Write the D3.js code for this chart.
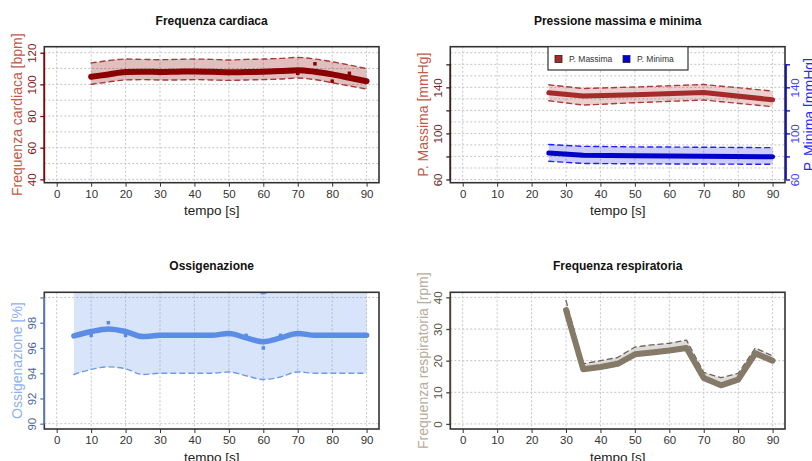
<!DOCTYPE html>
<html><head><meta charset="utf-8">
<script src="https://cdn.jsdelivr.net/npm/d3@7"></script>
<style>body{margin:0;background:#fff}svg{display:block;font-family:"Liberation Sans",Arial,Helvetica,sans-serif}</style>
</head><body>
<svg id="c" width="812" height="461"></svg>
<script>
// ---------------- DATA ----------------
const xTicks = [0,10,20,30,40,50,60,70,80,90];

// Frequenza cardiaca
const hrTime  = [10,15,20,25,30,35,40,45,50,55,60,65,70,75,80,85,90];
const hrMean  = [104.8,106.3,107.8,108,107.8,108,108.2,108,107.6,107.8,108,108.4,109,108,106.3,104.2,102];
const hrUpper = [113.5,115,116,115.8,115.6,115.8,116,115.8,115.4,115.8,116,116.4,117,116,114.3,112.2,110];
const hrLower = [100,101.5,102.8,103,102.8,102.8,103,102.8,102.5,102.8,103,103.4,104,103,101,99,97];
const hrObs   = [105,106,108,108,107,108,108,108,107,108,108,108,107,113,102,107,102];
const hrTicks = [40,60,80,100,120];

// Pressione massima e minima
const bpTime   = [25,35,50,70,90];
const sysMean  = [135.3,132.5,133.6,135.5,129.2];
const sysUpper = [142.2,139,140.3,142.5,136.8];
const sysLower = [128.4,124.6,126.7,129,123.2];
const diaMean  = [83,81,80.5,80.2,79.7];
const diaUpper = [90.4,88.8,88.3,88,87.6];
const diaLower = [75.8,73.9,73.6,73.4,73.2];
const bpTicks  = [60,80,100,120,140,160];
const bpLabels = [60,100,140];
const bpLegend = ["P. Massima","P. Minima"];

// Ossigenazione
const oxTime  = [5,10,15,20,25,30,35,40,45,50,55,60,65,70,75,80,85,90];
const oxMean  = [96.95,97.3,97.5,97.3,96.9,97,97,97,97,97.15,96.8,96.5,96.8,97.15,97,97,97,97];
const oxLower = [93.9,94.3,94.5,94.35,93.9,94,94,94,94,94.1,93.8,93.5,93.7,94.1,94,94,94,94];
const oxUpper = [101.2,101.2,101.2,101.2,101.2,101.2,101.2,101.2,101.2,101.2,100.8,100.3,100.8,101.2,101.2,101.2,101.2,101.2];
const oxObsTime = [10,15,20,55,60,65];
const oxObs     = [97,98,97,97,96,97];
const oxTicks = [90,92,94,96,98,100];

// Frequenza respiratoria
const rrTime  = [30,35,40,45,50,55,60,65,70,75,80,85,90];
const rrMean  = [36,17.3,18,19,22,22.6,23.2,24,14.5,12.2,14,22.3,20];
const rrUpper = [39,19,20,21,24.3,25,25.5,26.5,16.3,14.6,16,24,21.5];
const rrLower = [35.7,17,17.7,18.7,21.7,22.3,22.9,23.7,14.2,11.9,13.7,22,19.7];
const rrTicks = [0,10,20,30,40];

// ---------------- DRAW ----------------
const svg = d3.select("#c");
let clipId = 0;

function makePanel(o){
  const g = svg.append("g");
  const x = d3.scaleLinear().domain([-3.6,93.6]).range([o.left,o.right]);
  const y = d3.scaleLinear().domain(o.yDomain).range([o.bottom,o.top]);
  const id = "clip"+(clipId++);
  g.append("clipPath").attr("id",id).append("rect")
    .attr("x",o.left).attr("y",o.top).attr("width",o.right-o.left).attr("height",o.bottom-o.top);
  // grid
  const grid = g.append("g").attr("stroke","#c4c4c4").attr("stroke-width",1).attr("stroke-dasharray","2,2");
  xTicks.forEach(t=>grid.append("line").attr("x1",x(t)).attr("x2",x(t)).attr("y1",o.top).attr("y2",o.bottom));
  o.gridY.forEach(t=>grid.append("line").attr("x1",o.left).attr("x2",o.right).attr("y1",y(t)).attr("y2",y(t)));
  const plot = g.append("g").attr("clip-path","url(#"+id+")");
  o.draw(plot,x,y);
  // box
  g.append("rect").attr("x",o.left).attr("y",o.top).attr("width",o.right-o.left).attr("height",o.bottom-o.top)
    .attr("fill","none").attr("stroke","#333").attr("stroke-width",1.6);
  // x axis
  const xa = g.append("g").attr("transform","translate(0,"+o.bottom+")")
    .call(d3.axisBottom(x).tickValues(xTicks).tickSize(4).tickPadding(3).tickFormat(d3.format("d")));
  xa.select(".domain").remove();
  xa.selectAll("line").attr("stroke","#333");
  xa.selectAll("text").attr("font-size",11.5).attr("fill","#333").attr("font-family",null).attr("dy",null).attr("y",11).attr("dominant-baseline","central");
  g.append("text").attr("x",(o.left+o.right)/2).attr("y",o.bottom+28).attr("text-anchor","middle")
    .attr("dominant-baseline","central").attr("font-size",13.5).attr("fill","#222").text("tempo [s]");
  // title
  g.append("text").attr("x",(o.left+o.right)/2).attr("y",o.top-26).attr("text-anchor","middle")
    .attr("dominant-baseline","central").attr("font-size",12).attr("font-weight","bold").attr("fill","#111").text(o.title);
  // y axes
  o.yAxes.forEach(a=>{
    const right = a.side==="right";
    const ax = right ? d3.axisRight(y) : d3.axisLeft(y);
    const pos = right ? o.right+1 : o.left;
    const ag = g.append("g").attr("transform","translate("+pos+",0)")
      .call(ax.tickValues(a.ticks).tickSize(4).tickFormat(d=> a.labels.includes(d)? d3.format("d")(d):""));
    ag.select(".domain").remove();
    ag.selectAll("line").attr("stroke",a.color).attr("stroke-width",1.3);
    ag.selectAll("text").attr("font-size",11.5).attr("fill",a.labelColor).attr("font-family",null)
      .attr("transform","rotate(-90)").attr("x",0).attr("y",right?9:-12.6).attr("dy","0.35em").attr("text-anchor","middle");
    const ext = d3.extent(a.ticks);
    g.append("line").attr("x1",pos).attr("x2",pos).attr("y1",y(ext[0])).attr("y2",y(ext[1]))
      .attr("stroke",a.color).attr("stroke-width",1.6);
    const cx = right ? 809 : o.left-27;
    const cy = (o.top+o.bottom)/2;
    g.append("text").attr("transform","translate("+cx+","+cy+") rotate(-90)").attr("text-anchor","middle")
      .attr("dominant-baseline","central").attr("font-size",14).attr("fill",a.titleColor).text(a.title);
  });
  return {g,x,y};
}

function band(plot,x,y,t,lo,hi,fill,curve){
  const area = d3.area().x((d,i)=>x(t[i])).y0((d,i)=>y(lo[i])).y1((d,i)=>y(hi[i])).curve(curve);
  plot.append("path").datum(t).attr("d",area).attr("fill",fill);
}
function line(plot,x,y,t,v,stroke,w,dash,curve){
  const ln = d3.line().x((d,i)=>x(t[i])).y((d,i)=>y(v[i])).curve(curve);
  plot.append("path").datum(t).attr("d",ln).attr("fill","none").attr("stroke",stroke).attr("stroke-width",w)
    .attr("stroke-dasharray",dash||null).attr("stroke-linejoin","round").attr("stroke-linecap","round");
}
function squares(plot,x,y,t,v,fill,s){
  plot.selectAll(null).data(t).enter().append("rect")
    .attr("x",(d,i)=>x(t[i])-s/2).attr("y",(d,i)=>y(v[i])-s/2).attr("width",s).attr("height",s).attr("fill",fill);
}

// Panel 1
makePanel({
  left:44.3,right:379,top:46.7,bottom:182.7,yDomain:[37.9,123.8],
  title:"Frequenza cardiaca",
  gridY:[40,50,60,70,80,90,100,110,120],
  yAxes:[{side:"left",ticks:hrTicks,labels:hrTicks,color:"#8b0000",labelColor:"#7a1c1c",titleColor:"#c25a4a",title:"Frequenza cardiaca [bpm]"}],
  draw:(p,x,y)=>{
    const c=d3.curveMonotoneX;
    band(p,x,y,hrTime,hrLower,hrUpper,"rgba(139,0,0,0.25)",c);
    line(p,x,y,hrTime,hrUpper,"#a83a3a",1.4,"5,4",c);
    line(p,x,y,hrTime,hrLower,"#a83a3a",1.4,"5,4",c);
    squares(p,x,y,hrTime,hrObs,"#8b0000",3.5);
    line(p,x,y,hrTime,hrMean,"#8b0000",6,null,c);
  }
});

// Panel 2
const p2 = makePanel({
  left:450.3,right:785,top:46.7,bottom:182.7,yDomain:[57.2,175.3],
  title:"Pressione massima e minima",
  gridY:[60,70,80,90,100,110,120,130,140,150,160,170],
  yAxes:[
    {side:"left",ticks:bpTicks,labels:bpLabels,color:"#3a2222",labelColor:"#6b2a2a",titleColor:"#c25a4a",title:"P. Massima [mmHg]"},
    {side:"right",ticks:bpTicks,labels:bpLabels,color:"#0000cd",labelColor:"#3a3aff",titleColor:"#2a2aff",title:"P. Minima [mmHg]"}
  ],
  draw:(p,x,y)=>{
    const c=d3.curveLinear;
    band(p,x,y,bpTime,sysLower,sysUpper,"rgba(165,42,42,0.22)",c);
    line(p,x,y,bpTime,sysUpper,"#b03a3a",1.4,"5,4",c);
    line(p,x,y,bpTime,sysLower,"#b03a3a",1.4,"5,4",c);
    line(p,x,y,bpTime,sysMean,"#a52a2a",5,null,c);
    band(p,x,y,bpTime,diaLower,diaUpper,"rgba(0,0,255,0.2)",c);
    line(p,x,y,bpTime,diaUpper,"#1f1fff",1.4,"5,4",c);
    line(p,x,y,bpTime,diaLower,"#1f1fff",1.4,"5,4",c);
    line(p,x,y,bpTime,diaMean,"#0000cd",5,null,c);
  }
});
// legend
(function(){
  const lg = p2.g.append("g");
  lg.append("rect").attr("x",548).attr("y",46.7).attr("width",140).attr("height",23.3).attr("fill","#fff").attr("stroke","#333").attr("stroke-width",1.2);
  const cols=["#a52a2a","#0000cd"], xs=[555,623];
  bpLegend.forEach((n,i)=>{
    lg.append("rect").attr("x",xs[i]).attr("y",55.5).attr("width",7).attr("height",7).attr("fill",cols[i]).attr("stroke","#222").attr("stroke-width",0.8);
    lg.append("text").attr("x",xs[i]+14).attr("y",59.3).attr("dominant-baseline","central").attr("font-size",8.5).attr("fill","#333").text(n);
  });
})();

// Panel 3
makePanel({
  left:44.3,right:379,top:292.3,bottom:429,yDomain:[89.58,100.41],
  title:"Ossigenazione",
  gridY:[90,100],
  yAxes:[{side:"left",ticks:oxTicks,labels:[90,92,94,96,98],color:"#5577bb",labelColor:"#4d6699",titleColor:"#8fb0ef",title:"Ossigenazione [%]"}],
  draw:(p,x,y)=>{
    const c=d3.curveMonotoneX;
    band(p,x,y,oxTime,oxLower,oxUpper,"rgba(100,149,237,0.26)",c);
    line(p,x,y,oxTime,oxUpper,"#6f9ae8",1.4,"5,4",c);
    line(p,x,y,oxTime,oxLower,"#6f9ae8",1.4,"5,4",c);
    squares(p,x,y,oxObsTime,oxObs,"#5b8be0",3.5);
    line(p,x,y,oxTime,oxMean,"#5b8de6",5.5,null,c);
  }
});

// Panel 4
makePanel({
  left:450.3,right:785,top:292.3,bottom:429,yDomain:[-1.6,41.6],
  title:"Frequenza respiratoria",
  gridY:[0,10,20,30,40],
  yAxes:[{side:"left",ticks:rrTicks,labels:rrTicks,color:"#4a4236",labelColor:"#5a5347",titleColor:"#b8ad9b",title:"Frequenza respiratoria [rpm]"}],
  draw:(p,x,y)=>{
    const c=d3.curveLinear;
    band(p,x,y,rrTime,rrLower,rrUpper,"rgba(200,195,195,0.6)",c);
    line(p,x,y,rrTime,rrUpper,"#6d6458",1.3,"5,4",c);
    line(p,x,y,rrTime,rrMean,"#857a68",6,null,c);
  }
});
</script>
</body></html>
